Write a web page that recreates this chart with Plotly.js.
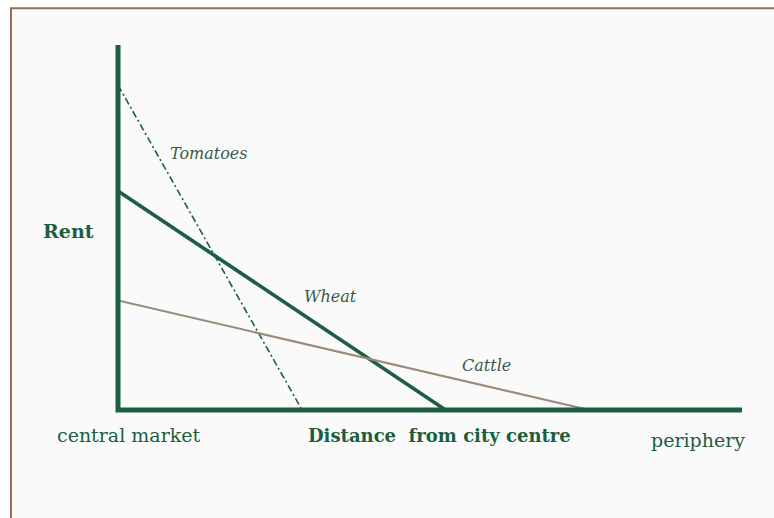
<!DOCTYPE html>
<html>
<head>
<meta charset="utf-8">
<script src="https://cdn.plot.ly/plotly-3.0.1.min.js"></script>
<style>html,body{margin:0;padding:0;background:#fff;}#chart{width:774px;height:518px;}</style>
</head>
<body>
<div id="chart"></div>
<script>
// Distance from city centre (0 = central market) and rent for each product
const tomatoesDistance = [0, 29.5];
const tomatoesRent = [89, 0];
const wheatDistance = [0, 52.5];
const wheatRent = [60, 0];
const cattleDistance = [0, 75.5];
const cattleRent = [30, 0];

const seriesNames = ['Tomatoes', 'Wheat', 'Cattle'];
const labelDistance = [14.6, 34.1, 59.1];
const labelRent = [70.4, 31, 12.1];

const green = '#1b5e40';
const serif = '"DejaVu Serif", "Liberation Serif", serif';

const traces = [
  {x: tomatoesDistance, y: tomatoesRent, mode: 'lines', line: {color: green, width: 1.6, dash: '7px,3px,2px,3px'}, name: 'Tomatoes', hoverinfo: 'skip'},
  {x: wheatDistance, y: wheatRent, mode: 'lines', line: {color: green, width: 3.6}, name: 'Wheat', hoverinfo: 'skip'},
  {x: cattleDistance, y: cattleRent, mode: 'lines', line: {color: '#9a8a7a', width: 2}, name: 'Cattle', hoverinfo: 'skip'}
];

const annotations = seriesNames.map((n, i) => ({
  x: labelDistance[i], y: labelRent[i], xref: 'x', yref: 'y', text: '<i>' + n + '</i>',
  xanchor: 'center', yanchor: 'middle',
  showarrow: false, font: {family: serif, size: 16, color: '#3c5a4a'}
}));
const axisTexts = [
  {x: -0.0793, y: 0.490, text: '<b>Rent</b>', size: 19},
  {x: 0.0168, y: -0.068, text: 'central market', size: 19},
  {x: 0.5152, y: -0.0685, text: '<b>Distance  from city centre</b>', size: 18},
  {x: 0.9287, y: -0.082, text: 'periphery', size: 19}
];
axisTexts.forEach(t => annotations.push({
  x: t.x, y: t.y, xref: 'paper', yref: 'paper', text: t.text, xanchor: 'center', yanchor: 'middle',
  showarrow: false, font: {family: serif, size: t.size, color: green}
}));

const shapes = [
  {type: 'rect', xref: 'paper', yref: 'paper', x0: -0.1715, x1: 1.06, y0: -0.31, y1: 1.101, fillcolor: '#fafafa', line: {width: 0}, layer: 'below'},
  {type: 'path', xref: 'paper', yref: 'paper', path: 'M -0.1715 -0.31 L -0.1715 1.101 L 1.06 1.101', line: {color: '#9c6b5e', width: 2}, layer: 'below'},
  {type: 'path', xref: 'paper', yref: 'paper', path: 'M 0 1 L 0 0 L 1 0', line: {color: green, width: 5}, layer: 'above'}
];

const layout = {
  width: 774, height: 518,
  margin: {l: 118, r: 32, t: 45, b: 108},
  paper_bgcolor: '#ffffff', plot_bgcolor: 'rgba(0,0,0,0)',
  showlegend: false,
  xaxis: {range: [0, 100], visible: false, fixedrange: true},
  yaxis: {range: [0, 100], visible: false, fixedrange: true},
  annotations: annotations,
  shapes: shapes
};

Plotly.newPlot('chart', traces, layout, {displayModeBar: false, staticPlot: true});
</script>
</body>
</html>
